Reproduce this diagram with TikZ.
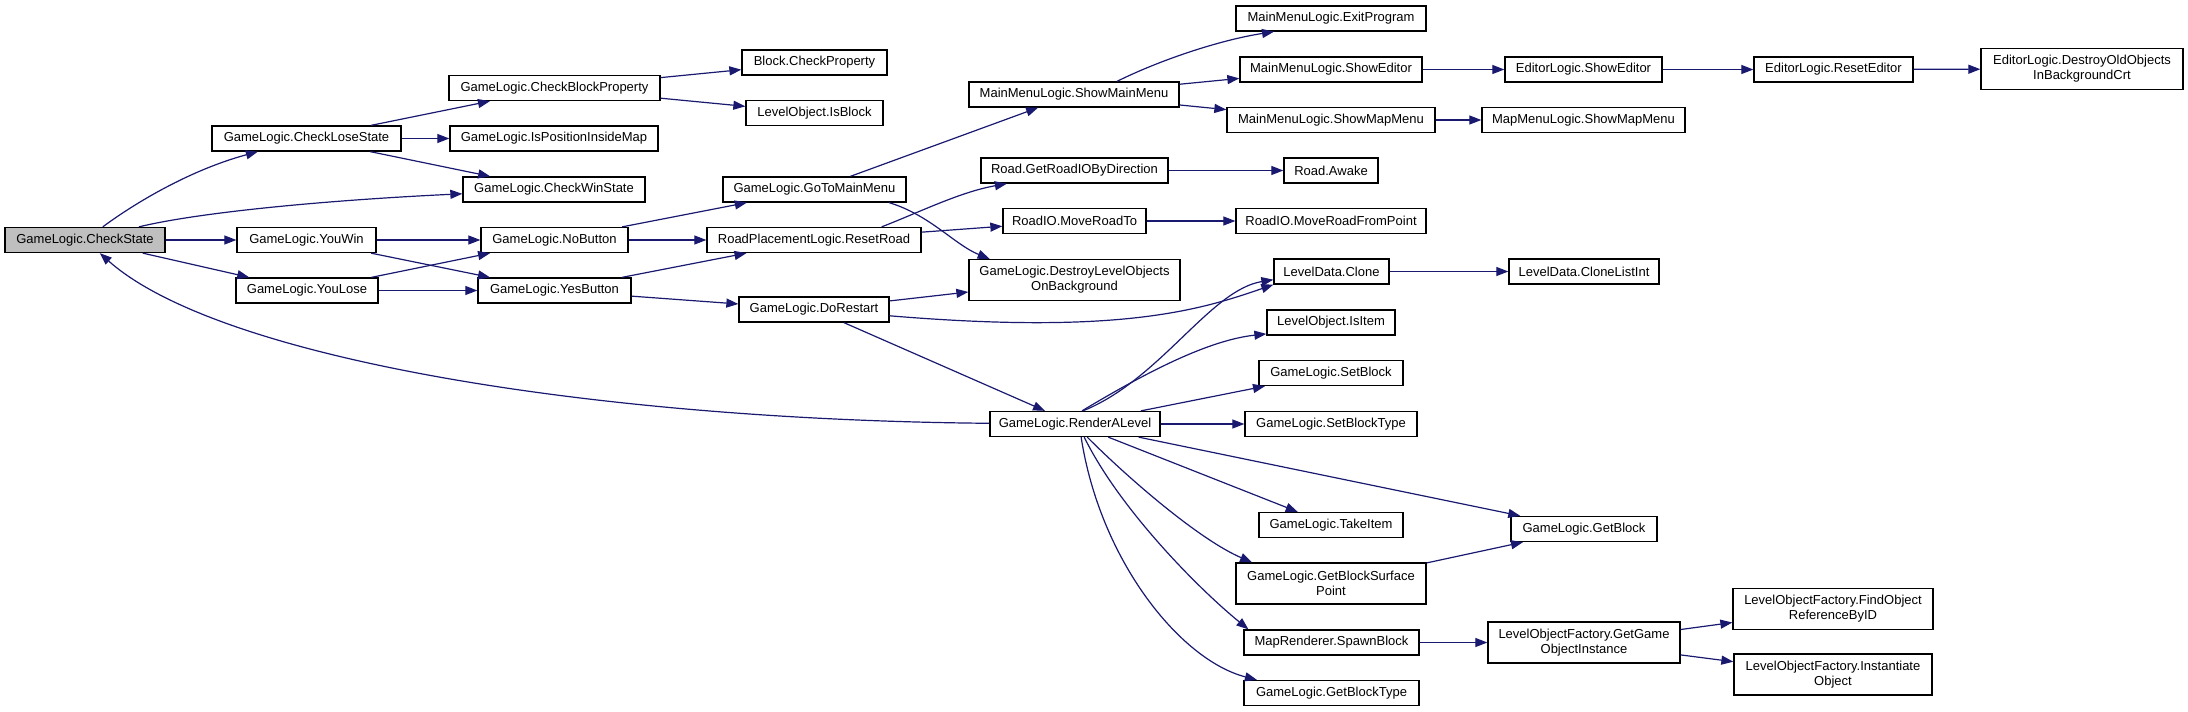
\documentclass[tikz,border=0pt]{standalone}
\usepackage{fontspec}
\setmainfont{Liberation Sans}
\usetikzlibrary{arrows.meta}
\definecolor{edgeblue}{HTML}{191970}
\definecolor{hilite}{HTML}{BFBFBF}

\begin{document}
\begin{tikzpicture}[x=1pt, y=-1pt,
  font=\fontsize{13}{15}\selectfont,
  fn/.style={draw=black, fill=white, line width=1.3pt, inner sep=0pt,
    minimum height=25pt, align=center},
  fntwo/.style={fn, minimum height=41pt},
  call/.style={draw=edgeblue, line width=1.2pt,
    -{Triangle[length=12pt,width=9pt,fill=edgeblue]}}]

% ---------- canvas (pixel units, y down) ----------
\useasboundingbox (0,0) rectangle (2188,712);

% ---------- column 1 ----------
\node[fn, fill=hilite, minimum width=160pt] (cs) at (85,240) {GameLogic.CheckState};

% ---------- column 2 ----------
\node[fn, minimum width=189pt] (cls) at (306.5,138.5) {GameLogic.CheckLoseState};
\node[fn, minimum width=139pt] (yw) at (306.5,240) {GameLogic.YouWin};
\node[fn, minimum width=142pt] (yl) at (307,290.5) {GameLogic.YouLose};

% ---------- column 3 ----------
\node[fn, minimum width=211pt] (cbp) at (554.5,88) {GameLogic.CheckBlockProperty};
\node[fn, minimum width=208pt] (ipm) at (554,138.5) {GameLogic.IsPositionInsideMap};
\node[fn, minimum width=182pt] (cws) at (554,189.5) {GameLogic.CheckWinState};
\node[fn, minimum width=147pt] (nb) at (554.5,240) {GameLogic.NoButton};
\node[fn, minimum width=153pt] (yb) at (554.5,290.5) {GameLogic.YesButton};

% ---------- column 4 ----------
\node[fn, minimum width=145pt] (bcp) at (814.5,62.5) {Block.CheckProperty};
\node[fn, minimum width=137pt] (lib) at (814.5,113) {LevelObject.IsBlock};
\node[fn, minimum width=183pt] (gtm) at (814.5,189.5) {GameLogic.GoToMainMenu};
\node[fn, minimum width=214pt] (rr) at (814,240) {RoadPlacementLogic.ResetRoad};
\node[fn, minimum width=150pt] (dr) at (814,309.5) {GameLogic.DoRestart};

% ---------- column 5 ----------
\node[fn, minimum width=210pt] (smm) at (1074,94.5) {MainMenuLogic.ShowMainMenu};
\node[fn, minimum width=187pt] (grd) at (1074.5,170.5) {Road.GetRoadIOByDirection};
\node[fn, minimum width=143pt] (mrt) at (1074.5,221) {RoadIO.MoveRoadTo};
\node[fntwo, minimum width=211pt] (dlo) at (1074.5,280) {GameLogic.DestroyLevelObjects\\OnBackground};
\node[fn, minimum width=170pt] (ral) at (1075,424) {GameLogic.RenderALevel};

% ---------- column 6 ----------
\node[fn, minimum width=190pt] (ep) at (1331,18.5) {MainMenuLogic.ExitProgram};
\node[fn, minimum width=182pt] (mse) at (1331,69.5) {MainMenuLogic.ShowEditor};
\node[fn, minimum width=208pt] (msm) at (1331,120) {MainMenuLogic.ShowMapMenu};
\node[fn, minimum width=94pt] (ra) at (1331,170.5) {Road.Awake};
\node[fn, minimum width=190pt] (mrfp) at (1331,221) {RoadIO.MoveRoadFromPoint};
\node[fn, minimum width=115pt] (ldc) at (1331.5,271.5) {LevelData.Clone};
\node[fn, minimum width=128pt] (ii) at (1331,322.5) {LevelObject.IsItem};
\node[fn, minimum width=144pt] (sb) at (1331,373) {GameLogic.SetBlock};
\node[fn, minimum width=172pt] (sbt) at (1331,424) {GameLogic.SetBlockType};
\node[fn, minimum width=144pt] (ti) at (1331,525) {GameLogic.TakeItem};
\node[fntwo, minimum width=190pt] (gbsp) at (1331,583.5) {GameLogic.GetBlockSurface\\Point};
\node[fn, minimum width=175pt] (spb) at (1331.5,642.5) {MapRenderer.SpawnBlock};
\node[fn, minimum width=175pt] (gbt) at (1331.5,693) {GameLogic.GetBlockType};

% ---------- column 7 ----------
\node[fn, minimum width=157pt] (ese) at (1583.5,69.5) {EditorLogic.ShowEditor};
\node[fn, minimum width=203pt] (mmsm) at (1583.5,120) {MapMenuLogic.ShowMapMenu};
\node[fn, minimum width=150pt] (cli) at (1584,271.5) {LevelData.CloneListInt};
\node[fn, minimum width=146pt] (gb) at (1584,529) {GameLogic.GetBlock};
\node[fntwo, minimum width=192pt] (ggoi) at (1584,642.5) {LevelObjectFactory.GetGame\\ObjectInstance};

% ---------- column 8 and 9 ----------
\node[fn, minimum width=159pt] (re) at (1833.5,69.5) {EditorLogic.ResetEditor};
\node[fntwo, minimum width=200pt] (forb) at (1833,609) {LevelObjectFactory.FindObject\\ReferenceByID};
\node[fntwo, minimum width=198pt] (io) at (1833,674.5) {LevelObjectFactory.Instantiate\\Object};
\node[fntwo, minimum width=202pt] (doo) at (2082,69) {EditorLogic.DestroyOldObjects\\InBackgroundCrt};

% ---------- calls ----------
\draw[call] (cs) .. controls (135,203) and (190,170) .. (cls);
\draw[call] (cs) .. controls (200,212) and (330,200) .. (cws);
\draw[call] (cs) -- (yw);
\draw[call] (cs) -- (yl);
\draw[call] (cls) -- (cbp);
\draw[call] (cls) -- (ipm);
\draw[call] (cls) -- (cws);
\draw[call] (cbp) -- (bcp);
\draw[call] (cbp) -- (lib);
\draw[call] (yw) -- (nb);
\draw[call] (yw) -- (yb);
\draw[call] (yl) -- (nb);
\draw[call] (yl) -- (yb);
\draw[call] (nb) -- (gtm);
\draw[call] (nb) -- (rr);
\draw[call] (yb) -- (rr);
\draw[call] (yb) -- (dr);
\draw[call] (gtm) -- (smm);
\draw[call] (gtm.-10) .. controls (930,215) and (955,245) .. (dlo.166);
\draw[call] (rr.11) .. controls (920,212) and (960,192) .. (grd.191);
\draw[call] (rr) -- (mrt);
\draw[call] (dr) -- (dlo);
\draw[call] (dr) .. controls (1120,335) and (1200,310) .. (ldc.south west);
\draw[call] (dr) -- (ral);
\draw[call] (ral) .. controls (600,420) and (220,360) .. (cs);
\draw[call] (ral.59) .. controls (1160,380) and (1210,290) .. (ldc.188);
\draw[call] (ral.62) .. controls (1150,370) and (1210,340) .. (ii.190);
\draw[call] (ral) -- (sb);
\draw[call] (ral) -- (sbt);
\draw[call] (ral) -- (gb);
\draw[call] (ral) -- (ti);
\draw[call] (ral.-47) .. controls (1130,480) and (1200,540) .. (gbsp.165);
\draw[call] (ral.-55) .. controls (1120,510) and (1200,590) .. (spb.171);
\draw[call] (ral.-65) .. controls (1100,560) and (1180,660) .. (gbt.170);
\draw[call] (gbsp) -- (gb);
\draw[call] (spb) -- (ggoi);
\draw[call] (ggoi) -- (forb);
\draw[call] (ggoi) -- (io);
\draw[call] (smm.17) .. controls (1160,60) and (1220,40) .. (ep.193);
\draw[call] (smm) -- (mse);
\draw[call] (smm) -- (msm);
\draw[call] (mse) -- (ese);
\draw[call] (ese) -- (re);
\draw[call] (re) -- (doo);
\draw[call] (msm) -- (mmsm);
\draw[call] (grd) -- (ra);
\draw[call] (mrt) -- (mrfp);
\draw[call] (ldc) -- (cli);

\end{tikzpicture}
\end{document}
